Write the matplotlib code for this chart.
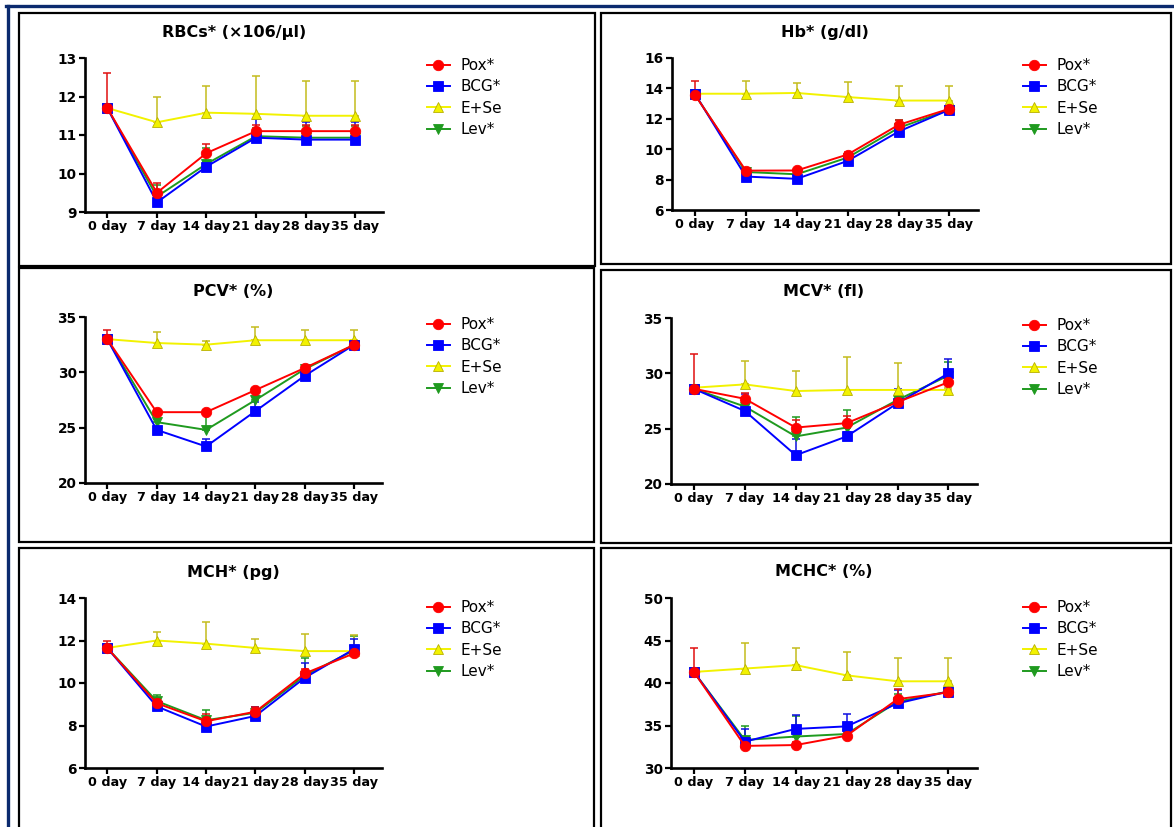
import numpy as np
import matplotlib
matplotlib.use("Agg")
import matplotlib.pyplot as plt
from matplotlib.patches import Rectangle
from matplotlib.lines import Line2D

W, H = 1174, 827

days = ["0 day", "7 day", "14 day", "21 day", "28 day", "35 day"]
groups = ["Pox*", "BCG*", "E+Se", "Lev*"]

# means per group (Pox, BCG, E+Se, Lev) and upper error bar length
rbc_means = [[11.70, 9.50, 10.53, 11.10, 11.10, 11.10],
             [11.70, 9.25, 10.18, 10.93, 10.88, 10.88],
             [11.70, 11.33, 11.58, 11.55, 11.50, 11.50],
             [11.70, 9.40, 10.25, 10.97, 10.93, 10.93]]
rbc_err = [[0.92, 0.25, 0.24, 0.16, 0.17, 0.17],
           [0.05, 0.10, 0.12, 0.48, 0.45, 0.45],
           [0.00, 0.65, 0.70, 0.99, 0.91, 0.91],
           [0.05, 0.30, 0.40, 0.20, 0.30, 0.30]]

hb_means = [[13.58, 8.59, 8.60, 9.65, 11.60, 12.66],
            [13.65, 8.20, 8.05, 9.23, 11.16, 12.60],
            [13.65, 13.65, 13.70, 13.43, 13.20, 13.20],
            [13.60, 8.50, 8.35, 9.45, 11.40, 12.60]]
hb_err = [[0.92, 0.10, 0.10, 0.15, 0.30, 0.10],
          [0.10, 0.10, 0.10, 0.10, 0.10, 0.10],
          [0.00, 0.81, 0.65, 0.97, 0.97, 0.97],
          [0.10, 0.10, 0.10, 0.10, 0.55, 0.10]]

pcv_means = [[33.0, 26.4, 26.4, 28.4, 30.4, 32.5],
             [33.0, 24.8, 23.3, 26.5, 29.7, 32.5],
             [33.0, 32.65, 32.5, 32.9, 32.9, 32.9],
             [33.0, 25.5, 24.8, 27.5, 30.3, 32.5]]
pcv_err = [[0.8, 0.2, 0.2, 0.2, 0.2, 0.2],
           [0.2, 0.3, 0.7, 0.8, 0.3, 0.3],
           [0.0, 0.95, 0.3, 1.2, 0.9, 0.9],
           [0.2, 0.3, 1.6, 0.4, 0.3, 0.3]]

mcv_means = [[28.6, 27.7, 25.1, 25.5, 27.4, 29.2],
             [28.6, 26.6, 22.6, 24.3, 27.3, 30.0],
             [28.7, 29.0, 28.4, 28.5, 28.5, 28.5],
             [28.6, 27.0, 24.3, 25.1, 27.6, 29.8]]
mcv_err = [[3.15, 0.5, 0.7, 0.6, 0.3, 0.3],
           [0.3, 1.5, 1.45, 0.4, 1.3, 1.3],
           [0.0, 2.1, 1.8, 3.0, 2.4, 0.2],
           [0.2, 0.6, 1.75, 1.6, 0.5, 1.2]]

mch_means = [[11.65, 9.05, 8.20, 8.65, 10.45, 11.40],
             [11.65, 8.90, 7.95, 8.45, 10.25, 11.60],
             [11.65, 12.00, 11.85, 11.65, 11.50, 11.50],
             [11.65, 9.15, 8.25, 8.60, 10.35, 11.55]]
mch_err = [[0.35, 0.2, 0.35, 0.2, 0.2, 0.1],
           [0.1, 0.2, 0.2, 0.4, 0.7, 0.45],
           [0.0, 0.38, 1.0, 0.42, 0.8, 0.75],
           [0.1, 0.3, 0.5, 0.25, 0.85, 0.65]]

mchc_means = [[41.3, 32.6, 32.7, 33.8, 38.1, 38.9],
              [41.3, 33.1, 34.6, 34.9, 37.6, 39.0],
              [41.3, 41.7, 42.1, 40.9, 40.2, 40.2],
              [41.3, 33.3, 33.7, 34.0, 37.8, 39.0]]
mchc_err = [[2.8, 0.3, 0.4, 0.3, 1.2, 0.3],
            [0.2, 1.5, 1.6, 1.4, 1.6, 0.4],
            [0.0, 3.0, 2.0, 2.7, 2.8, 2.8],
            [0.2, 1.7, 2.4, 0.5, 0.9, 0.4]]

titles = ["RBCs* (\u00d7106/\u00b5l)", "Hb* (g/dl)", "PCV* (%)",
          "MCV* (fl)", "MCHC* (%)", "MCH* (pg)"]

colors = ["#ff0000", "#0000ff", "#f2f200", "#1f9a1f"]
err_colors = ["#e01010", "#1010e0", "#c4bc1c", "#1f9a1f"]
markers = ["o", "s", "^", "v"]


def fig_rect(l, t, r, b):
    return [l / W, 1 - b / H, (r - l) / W, (b - t) / H]


fig = plt.figure(figsize=(W / 100, H / 100), dpi=100)

# outer blue frame
fig.add_artist(Line2D([7.5 / W, 7.5 / W], [0, 1 - 6 / H], color="#0b2a6e",
                      lw=2.4, transform=fig.transFigure))
fig.add_artist(Line2D([6 / W, 1], [1 - 6 / H, 1 - 6 / H], color="#0b2a6e",
                      lw=2.4, transform=fig.transFigure))

# panel boxes (left, top, right, bottom in pixels)
boxes = [(19, 13, 595, 266), (601, 13, 1171, 264),
         (19, 268, 594, 542), (601, 270, 1171, 543),
         (19, 548, 594, 840), (601, 548, 1171, 840)]
for l, t, r, b in boxes:
    fig.add_artist(Rectangle((l / W, 1 - b / H), (r - l) / W, (b - t) / H,
                             fill=False, ec="black", lw=1.6,
                             transform=fig.transFigure))

panels = [
    (rbc_means, rbc_err, titles[0], (85, 58, 383, 212), (9, 13), [9, 10, 11, 12, 13], 427, 58),
    (hb_means, hb_err, titles[1], (672, 58, 978, 210), (6, 16), [6, 8, 10, 12, 14, 16], 1023, 58),
    (pcv_means, pcv_err, titles[2], (85, 317, 382, 483), (20, 35), [20, 25, 30, 35], 427, 317),
    (mcv_means, mcv_err, titles[3], (671, 318, 977, 484), (20, 35), [20, 25, 30, 35], 1023, 318),
    (mch_means, mch_err, titles[5], (85, 598, 382, 768), (6, 14), [6, 8, 10, 12, 14], 427, 600),
    (mchc_means, mchc_err, titles[4], (671, 598, 977, 768), (30, 50), [30, 35, 40, 45, 50], 1023, 600),
]

x = np.arange(len(days))
for means, errs, title, (l, t, r, b), ylim, yticks, legx, legy in panels:
    ax = fig.add_axes(fig_rect(l, t, r, b))
    for i in range(4):
        m = np.array(means[i])
        e = np.array(errs[i])
        ax.errorbar(x, m, yerr=[np.zeros_like(e), e], fmt="none",
                    ecolor=err_colors[i], elinewidth=1.1, capsize=3,
                    capthick=1.1, zorder=5 - i)
        ax.plot(x, m, color=colors[i], lw=1.4, marker=markers[i],
                markersize=7.5, markeredgewidth=0.6,
                markeredgecolor=colors[i] if i != 2 else "#b8b000",
                label=groups[i], zorder=10 - i, clip_on=False)
    ax.set_xlim(-0.45, 5.56)
    ax.set_ylim(*ylim)
    ax.set_yticks(yticks)
    ax.set_xticks(x)
    ax.set_xticklabels(days)
    for s in ["top", "right"]:
        ax.spines[s].set_visible(False)
    for s in ["left", "bottom"]:
        ax.spines[s].set_linewidth(1.9)
    ax.tick_params(direction="out", length=4, width=1.6, pad=2)
    ax.tick_params(axis="x", labelsize=9.2)
    ax.tick_params(axis="y", labelsize=9.8)
    for lab in ax.get_xticklabels() + ax.get_yticklabels():
        lab.set_fontweight("bold")
    cx = (l + r) / 2
    fig.text(cx / W, 1 - (t - 26) / H, title, ha="center", va="center",
             fontsize=11.5, fontweight="bold")
    ax.legend(loc="upper left", bbox_to_anchor=(legx / W, 1 - legy / H),
              bbox_transform=fig.transFigure, frameon=False, fontsize=11,
              handlelength=1.5, handletextpad=0.7, labelspacing=0.42,
              borderpad=0, borderaxespad=0)

fig.savefig("out.png", dpi=100)
